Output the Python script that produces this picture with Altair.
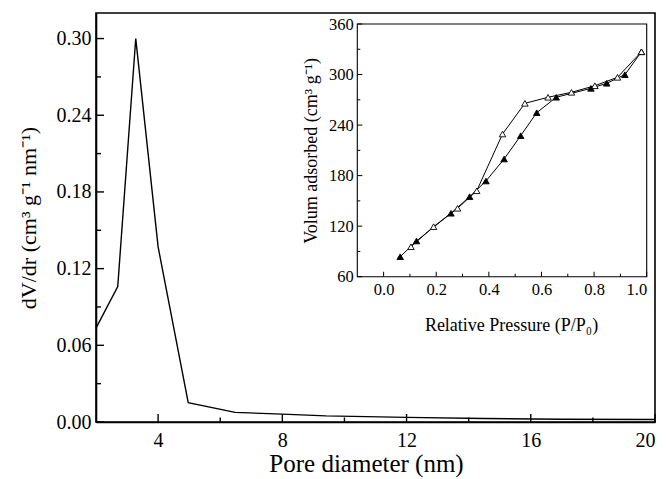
import altair as alt
import pandas as pd

# ---- main pore-size distribution ----
pore_d = [2.0, 2.7, 3.28, 4.0, 4.97, 6.48, 8.0, 9.4, 12.0, 14.5, 17.0, 20.0]
dvdr = [0.0735, 0.106, 0.300, 0.137, 0.0151, 0.0075, 0.0062, 0.0048, 0.0036, 0.0027, 0.0022, 0.0019]

# ---- inset isotherm ----
ads_p = [0.063, 0.125, 0.256, 0.327, 0.389, 0.458, 0.521, 0.582, 0.656, 0.788, 0.848, 0.917, 0.98]
ads_v = [83.7, 102.4, 135.3, 155.0, 173.6, 199.7, 227.4, 254.7, 273.0, 283.6, 289.6, 299.8, 327.0]
des_p = [0.98, 0.889, 0.803, 0.714, 0.625, 0.537, 0.452, 0.354, 0.281, 0.19, 0.104]
des_v = [327.0, 296.7, 286.7, 278.9, 273.0, 265.8, 229.4, 162.0, 141.2, 119.4, 95.6]

main_x_major = [4, 8, 12, 16, 20]
main_x_minor = [6, 10, 14, 18]
main_y_major = [0.0, 0.06, 0.12, 0.18, 0.24, 0.30]
main_y_minor = [0.03, 0.09, 0.15, 0.21, 0.27]
ins_x_major = [0.0, 0.2, 0.4, 0.6, 0.8, 1.0]
ins_x_minor = [0.1, 0.3, 0.5, 0.7, 0.9]
ins_y_major = [60, 120, 180, 240, 300, 360]
ins_y_minor = [90, 150, 210, 270, 330]

MAIN_X = [2, 20]
MAIN_Y = [0, 0.32]
INS_X = [-0.1, 1.0]
INS_Y = [60, 360]

W, H = 559, 409
FONT = "Liberation Serif"

main_df = pd.DataFrame({"d": pore_d, "v": dvdr})
iso_df = pd.concat([
    pd.DataFrame({"p": ads_p, "v": ads_v, "branch": "ads", "o": range(len(ads_p))}),
    pd.DataFrame({"p": des_p, "v": des_v, "branch": "des", "o": range(len(des_p))}),
])

mx = alt.Scale(domain=MAIN_X, nice=False, zero=False)
my = alt.Scale(domain=MAIN_Y, nice=False, zero=False)
# inset placed inside the plot area through its own scale ranges
ix = alt.Scale(domain=INS_X, nice=False, zero=False, range=[261.3, 550.7])
iy = alt.Scale(domain=INS_Y, nice=False, zero=False, range=[263.7, 11])

lab = dict(labelFont=FONT, titleFont=FONT, labelColor="black", titleColor="black",
           titleFontWeight="normal", grid=False)

main_line = alt.Chart(main_df).mark_line(color="black", strokeWidth=1.4).encode(
    x=alt.X("d:Q", scale=mx, axis=alt.Axis(
        orient="bottom", values=main_x_major, ticks=False, domainColor="black", domainWidth=1.6,
        labelFontSize=20, labelPadding=8, title="Pore diameter (nm)", titleFontSize=25,
        titlePadding=1, titleX=270, **lab)),
    y=alt.Y("v:Q", scale=my, axis=alt.Axis(
        orient="left", values=main_y_major, format=".2f", ticks=False, domainColor="black",
        domainWidth=1.6, labelFontSize=20, labelPadding=5, title="dV/dr (cm³ g⁻¹ nm⁻¹)",
        titleFontSize=22, titlePadding=16, **lab)),
)


def x_ticks(vals, xs, ys, base, length, width):
    df = pd.DataFrame({"t": vals, "b": [base] * len(vals)})
    return alt.Chart(df).mark_tick(color="black", orient="vertical", size=length,
                                   thickness=width, yOffset=-length / 2, opacity=1).encode(
        x=alt.X("t:Q", scale=xs, axis=None),
        y=alt.Y("b:Q", scale=ys, axis=None),
    )


def y_ticks(vals, xs, ys, base, length, width):
    df = pd.DataFrame({"t": vals, "b": [base] * len(vals)})
    return alt.Chart(df).mark_rule(color="black", strokeWidth=width, x2Offset=length).encode(
        y=alt.Y("t:Q", scale=ys, axis=None),
        x=alt.X("b:Q", scale=xs, axis=None), x2="b:Q",
    )


main_tick_layers = [
    x_ticks(main_x_major, mx, my, MAIN_Y[0], 8, 1.4),
    x_ticks(main_x_minor, mx, my, MAIN_Y[0], 4.5, 1.4),
    y_ticks(main_y_major, mx, my, MAIN_X[0], 8, 1.4),
    y_ticks(main_y_minor, mx, my, MAIN_X[0], 5, 1.4),
]

frame_df = pd.DataFrame({"x": [MAIN_X[0]], "x2": [MAIN_X[1]], "y": [MAIN_Y[0]], "y2": [MAIN_Y[1]]})
frame = alt.Chart(frame_df).mark_rect(fillOpacity=0, stroke="black", strokeWidth=1.6).encode(
    x=alt.X("x:Q", scale=mx, axis=None), x2="x2:Q",
    y=alt.Y("y:Q", scale=my, axis=None), y2="y2:Q",
)

ibg_df = pd.DataFrame({"x": [INS_X[0]], "x2": [INS_X[1]], "y": [INS_Y[0]], "y2": [INS_Y[1]]})
inset_bg = alt.Chart(ibg_df).mark_rect(fill="white", stroke="black", strokeWidth=1.1).encode(
    x=alt.X("x:Q", scale=ix, axis=alt.Axis(
        orient="bottom", offset=-145.3, values=ins_x_major, format=".1f", ticks=False, domain=False,
        labelFontSize=16.5, labelPadding=5, title="Relative Pressure (P/P₀)", titleFontSize=18,
        titlePadding=18, titleX=415, **lab)),
    x2="x2:Q",
    y=alt.Y("y:Q", scale=iy, axis=alt.Axis(
        orient="left", values=ins_y_major, offset=-261.3, ticks=False, domain=False,
        labelFontSize=16.5, labelPadding=4, title="Volum adsorbed (cm³ g⁻¹)", titleFontSize=18,
        titlePadding=8, **lab)),
    y2="y2:Q",
)

inset_tick_layers = [
    x_ticks(ins_x_major, ix, iy, INS_Y[0], 5, 1),
    x_ticks(ins_x_minor, ix, iy, INS_Y[0], 3, 1),
    y_ticks(ins_y_major, ix, iy, INS_X[0], 5, 1),
    y_ticks(ins_y_minor, ix, iy, INS_X[0], 3, 1),
]

iso_line = alt.Chart(iso_df).mark_line(color="black", strokeWidth=1).encode(
    x=alt.X("p:Q", scale=ix, axis=None),
    y=alt.Y("v:Q", scale=iy, axis=None),
    detail="branch:N",
    order="o:Q",
)

iso_pts = alt.Chart(iso_df).mark_point(shape="triangle-up", size=42, strokeWidth=0.9, opacity=1).encode(
    x=alt.X("p:Q", scale=ix, axis=None),
    y=alt.Y("v:Q", scale=iy, axis=None),
    fill=alt.Fill("branch:N", scale=alt.Scale(domain=["ads", "des"], range=["black", "white"]), legend=None),
    stroke=alt.value("black"),
)

chart = alt.layer(
    main_line, *main_tick_layers, inset_bg, *inset_tick_layers, iso_line, iso_pts, frame
).resolve_scale(
    x="independent", y="independent", fill="independent"
).resolve_axis(
    x="independent", y="independent"
).properties(
    width=W, height=H,
    autosize=alt.AutoSizeParams(type="none"),
    padding={"left": 96, "top": 13, "right": 12, "bottom": 57},
    background="white",
).configure_view(stroke=None)

chart.save("out.html", embed_options={"renderer": "svg", "actions": False})
